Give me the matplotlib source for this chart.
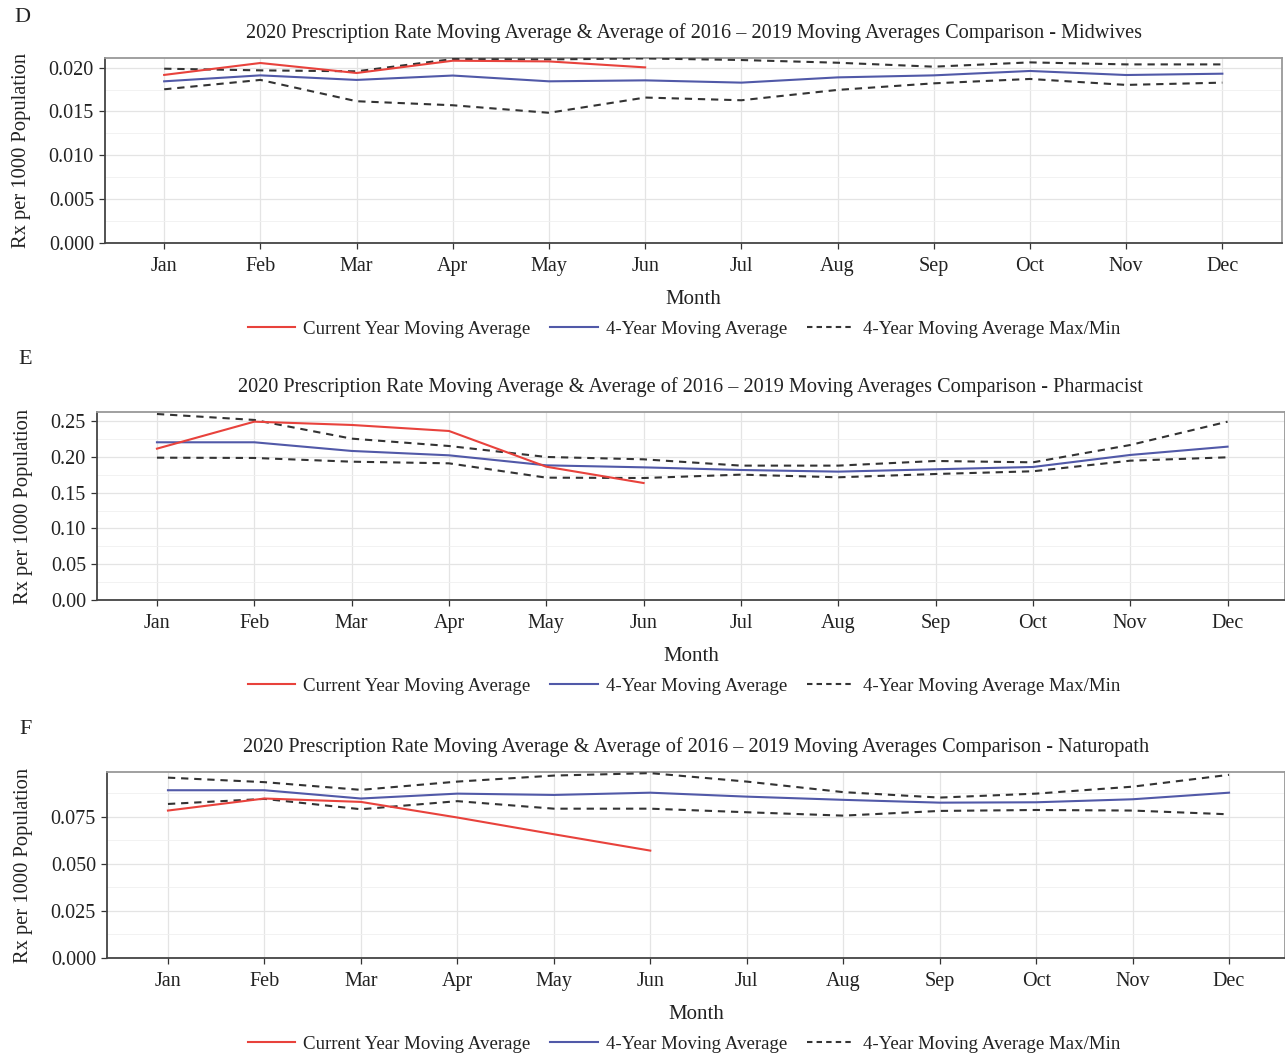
import matplotlib
matplotlib.use("Agg")
import matplotlib.pyplot as plt
from matplotlib.ticker import FixedLocator, MultipleLocator, FormatStrFormatter
from matplotlib.lines import Line2D

plt.rcParams['font.family'] = ['Liberation Serif', 'DejaVu Serif']

months = ["Jan", "Feb", "Mar", "Apr", "May", "Jun", "Jul", "Aug", "Sep", "Oct", "Nov", "Dec"]

# Panel D - Midwives
mid_current = [0.01917, 0.02053, 0.01939, 0.02079, 0.02071, 0.02003]
mid_avg = [0.01844, 0.01912, 0.01860, 0.01910, 0.01844, 0.01855, 0.01829, 0.01889, 0.01912, 0.01962, 0.01916, 0.01931]
mid_max = [0.01988, 0.01969, 0.01958, 0.02098, 0.02094, 0.02105, 0.02087, 0.02056, 0.02011, 0.02060, 0.02037, 0.02037]
mid_min = [0.01753, 0.01860, 0.01617, 0.01571, 0.01485, 0.01659, 0.01628, 0.01746, 0.01821, 0.01871, 0.01803, 0.01829]

# Panel E - Pharmacist
pha_current = [0.2114, 0.2491, 0.2445, 0.2361, 0.1862, 0.1634]
pha_avg = [0.2203, 0.2203, 0.2082, 0.2021, 0.1881, 0.1853, 0.1816, 0.1793, 0.1826, 0.1858, 0.2026, 0.2142]
pha_max = [0.2598, 0.2515, 0.2254, 0.2151, 0.1998, 0.1965, 0.1877, 0.1877, 0.1942, 0.1923, 0.2165, 0.2491]
pha_min = [0.1988, 0.1984, 0.1932, 0.1909, 0.1709, 0.1704, 0.1751, 0.1714, 0.1760, 0.1798, 0.1946, 0.1993]

# Panel F - Naturopath
nat_current = [0.0784, 0.0848, 0.0830, 0.0747, 0.0658, 0.0571]
nat_avg = [0.0892, 0.0892, 0.0848, 0.0874, 0.0867, 0.0879, 0.0858, 0.0841, 0.0826, 0.0828, 0.0844, 0.0879]
nat_max = [0.0959, 0.0935, 0.0894, 0.0938, 0.0970, 0.0983, 0.0938, 0.0882, 0.0853, 0.0874, 0.0911, 0.0974]
nat_min = [0.0819, 0.0846, 0.0791, 0.0834, 0.0794, 0.0794, 0.0775, 0.0757, 0.0782, 0.0787, 0.0784, 0.0764]

d_yticks = [0.000, 0.005, 0.010, 0.015, 0.020]
e_yticks = [0.00, 0.05, 0.10, 0.15, 0.20, 0.25]
f_yticks = [0.000, 0.025, 0.050, 0.075]

title_base = "2020 Prescription Rate Moving Average & Average of 2016 \u2013 2019 Moving Averages Comparison - "
panels = [
    dict(letter="D", prof="Midwives", cur=mid_current, avg=mid_avg, mx=mid_max, mn=mid_min,
         yticks=d_yticks, fmt="%.3f", ylim=(0, 0.0211), minor=0.0025,
         rect=[105, 58, 1282, 243], xlim=(0.385, 12.62), letter_xy=(22, 17)),
    dict(letter="E", prof="Pharmacist", cur=pha_current, avg=pha_avg, mx=pha_max, mn=pha_min,
         yticks=e_yticks, fmt="%.2f", ylim=(0, 0.2626), minor=0.025,
         rect=[97, 412, 1285, 600], xlim=(0.384, 12.59), letter_xy=(25, 360)),
    dict(letter="F", prof="Naturopath", cur=nat_current, avg=nat_avg, mx=nat_max, mn=nat_min,
         yticks=f_yticks, fmt="%.3f", ylim=(0, 0.0989), minor=0.0125,
         rect=[107, 772, 1285, 958], xlim=(0.368, 12.58), letter_xy=(26, 729)),
]

W, H = 1285, 1056
fig = plt.figure(figsize=(W / 100, H / 100), dpi=100)

RED = "#e8423c"
BLUE = "#5159a8"
DASH = "#333333"

for p in panels:
    x0, y0, x1, y1 = p["rect"]
    ax = fig.add_axes([x0 / W, 1 - y1 / H, (x1 - x0) / W, (y1 - y0) / H])
    xs = list(range(1, 13))
    ax.plot(xs, p["mx"], color=DASH, lw=1.5, ls=(0, (3.5, 2.8)), zorder=3)
    ax.plot(xs, p["mn"], color=DASH, lw=1.5, ls=(0, (3.5, 2.8)), zorder=3)
    ax.plot(xs, p["avg"], color=BLUE, lw=1.5, zorder=4)
    ax.plot(xs[:len(p["cur"])], p["cur"], color=RED, lw=1.5, zorder=5)
    ax.set_xlim(*p["xlim"])
    ax.set_ylim(*p["ylim"])
    ax.set_xticks(xs)
    ax.set_xticklabels(months)
    ax.yaxis.set_major_locator(FixedLocator(p["yticks"]))
    ax.yaxis.set_minor_locator(MultipleLocator(p["minor"]))
    ax.yaxis.set_major_formatter(FormatStrFormatter(p["fmt"]))
    ax.grid(True, which="major", color="#e4e4e4", lw=0.9)
    ax.grid(True, which="minor", axis="y", color="#f0f0f0", lw=0.6)
    ax.set_axisbelow(True)
    ax.tick_params(axis="both", which="major", length=4, width=0.9, color="#333333",
                   labelsize=14.5, pad=4, labelcolor="#222222")
    ax.tick_params(axis="x", pad=6)
    ax.tick_params(axis="y", which="minor", length=0)
    for s in ["left", "bottom"]:
        ax.spines[s].set_color("#444444")
        ax.spines[s].set_linewidth(1.3)
    for s in ["top", "right"]:
        ax.spines[s].set_color("#999999")
        ax.spines[s].set_linewidth(1.3)
    ax.set_title(title_base + p["prof"], fontsize=14.6, pad=14.5, color="#222222")
    ax.set_xlabel("Month", fontsize=15, labelpad=10, color="#222222")
    ax.set_ylabel("Rx per 1000 Population", fontsize=14.8, labelpad=13, color="#222222")
    fig.text(p["letter_xy"][0] / W, 1 - p["letter_xy"][1] / H, p["letter"],
             fontsize=16, ha="center", va="center", color="#222222")
    handles = [Line2D([], [], color=RED, lw=1.5),
               Line2D([], [], color=BLUE, lw=1.5),
               Line2D([], [], color=DASH, lw=1.5, ls=(0, (2.6, 2.0)))]
    labels = ["Current Year Moving Average", "4-Year Moving Average", "4-Year Moving Average Max/Min"]
    fig.legend(handles, labels, loc="center", ncol=3, frameon=False,
               bbox_to_anchor=(684 / W, 1 - (y1 + 86) / H), fontsize=13.6,
               handlelength=2.5, handletextpad=0.45, columnspacing=1.05,
               labelcolor="#222222")

fig.savefig("out.png", dpi=100)
